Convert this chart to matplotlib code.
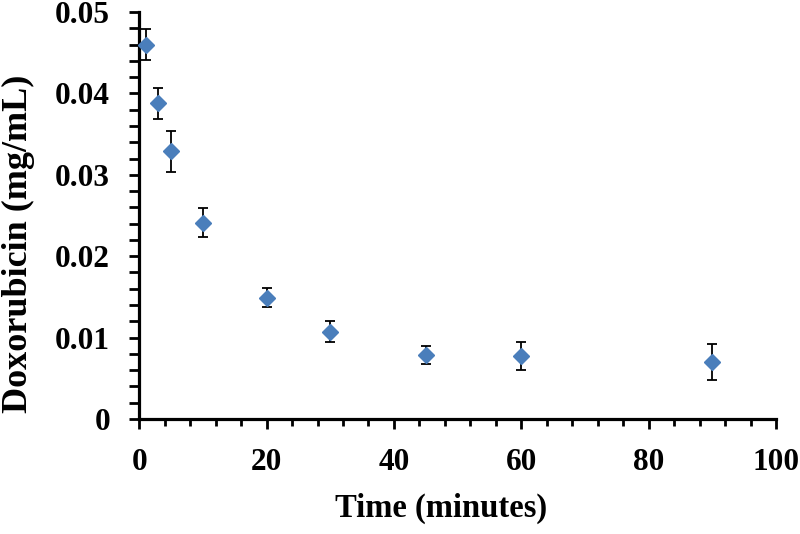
import matplotlib
matplotlib.use("Agg")
import matplotlib.pyplot as plt
from matplotlib.ticker import MultipleLocator, FuncFormatter

# data
time_min = [1, 3, 5, 10, 20, 30, 45, 60, 90]
dox = [0.0460, 0.0388, 0.0329, 0.0241, 0.0149, 0.0107, 0.0079, 0.0077, 0.0070]
dox_err = [0.0019, 0.0019, 0.0025, 0.0018, 0.0012, 0.0013, 0.0011, 0.0017, 0.0022]

plt.rcParams['font.family'] = ['Liberation Serif', 'DejaVu Serif']
plt.rcParams['font.weight'] = 'bold'

fig = plt.figure(figsize=(8, 5.34), dpi=100)
ax = fig.add_axes([0.174, 0.2154, 0.796, 0.7621])

ax.errorbar(time_min, dox, yerr=dox_err, fmt='D', color='#4a7ebb',
            markersize=8, ecolor='black', elinewidth=1.3, capsize=3.6,
            capthick=1.3, zorder=3, clip_on=False)

ax.set_xlim(0, 100)
ax.set_ylim(0, 0.05)
ax.xaxis.set_major_locator(MultipleLocator(20))
ax.xaxis.set_minor_locator(MultipleLocator(4))
ax.yaxis.set_major_locator(MultipleLocator(0.01))
ax.yaxis.set_minor_locator(MultipleLocator(0.002))
ax.yaxis.set_major_formatter(FuncFormatter(lambda v, p: '0' if abs(v) < 1e-9 else f'{v:g}'))

for s in ['top', 'right']:
    ax.spines[s].set_visible(False)
for s in ['left', 'bottom']:
    ax.spines[s].set_linewidth(2.3)

ax.tick_params(which='major', length=7, width=2, labelsize=22.5)
ax.tick_params(which='minor', length=5, width=2)
ax.tick_params(axis='y', which='both', length=7)
ax.tick_params(axis='x', which='major', pad=14)
ax.tick_params(axis='y', which='major', pad=14)
for lab in ax.get_xticklabels() + ax.get_yticklabels():
    lab.set_fontweight('bold')

ax.set_xlabel('Time (minutes)', fontsize=23.5, fontweight='bold')
ax.xaxis.set_label_coords(0.474, -0.182)
ax.set_ylabel('Doxorubicin (mg/mL)', fontsize=26, fontweight='bold')
ax.yaxis.set_label_coords(-0.163, 0.431)

fig.savefig('out.png', dpi=100)
